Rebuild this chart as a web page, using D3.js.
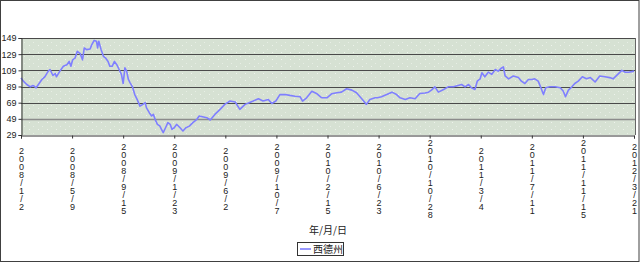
<!DOCTYPE html>
<html>
<head>
<meta charset="utf-8">
<script src="https://cdn.jsdelivr.net/npm/d3@7"></script>
<style>
  body { margin: 0; background: #fff; }
  svg { display: block; }
</style>
</head>
<body>
<svg id="chart" width="640" height="263"></svg>
<script>
// trading-day index of each date label on the category axis
var tickLabels = ["2008/1/2", "2008/5/9", "2008/9/15", "2009/1/23", "2009/6/2", "2009/10/7",
  "2010/2/15", "2010/6/23", "2010/10/28", "2011/3/4", "2011/7/11", "2011/11/15", "2012/3/21"];
var tickStep = 88;
var yTicks = [29, 49, 69, 89, 109, 129, 149];

// readings of the WTI line: trading-day index and price
var days = [0, 4, 10, 16, 21, 26, 30, 36, 41, 47, 50, 55, 59, 61, 67, 73, 79, 83, 86, 89,
  93, 97, 102, 106, 109, 113, 119, 122, 126, 130, 132, 134, 138, 142, 146, 150, 153, 157, 161, 165,
  169, 173, 176, 179, 182, 185, 188, 192, 196, 200, 205, 210, 214, 216, 221, 225, 228, 231, 235, 239,
  242, 245, 249, 253, 257, 260, 264, 268, 274, 279, 284, 290, 296, 303, 307, 320, 326, 334, 343, 351,
  360, 369, 377, 386, 393, 400, 409, 417, 426, 432, 439, 446, 455, 463, 472, 481, 485, 492, 501, 509,
  518, 527, 535, 544, 552, 561, 570, 578, 587, 595, 601, 610, 614, 621, 630, 639, 647, 653, 662, 670,
  679, 687, 696, 702, 707, 713, 719, 728, 736, 745, 753, 759, 765, 771, 776, 782, 786, 791, 794, 799,
  805, 811, 817, 822, 828, 831, 834, 840, 848, 857, 862, 868, 874, 880, 885, 891, 895, 900, 904, 911,
  920, 929, 934, 938, 943, 949, 954, 960, 967, 974, 981, 989, 997, 1006, 1014, 1020, 1028, 1035, 1041, 1047, 1056];
var prices = [99.7, 95.6, 91.5, 88.6, 90.3, 87.4, 91.5, 97.7, 101, 108, 110, 102.6, 105, 101, 108, 114, 116, 120, 114, 122,
  124, 132.6, 129.7, 122, 136.7, 134.6, 135.4, 140.8, 146, 145, 136.7, 145, 134.6, 126.4, 124, 120, 114, 114, 120, 116,
  110, 104, 92.7, 112, 108, 97.7, 93.6, 88.6, 79, 73, 64.8, 66.9, 69, 62.8, 56.6, 52.5, 54.5, 48.4, 42.2, 40.2,
  36, 32, 38, 44.3, 42.2, 36, 38, 42.2, 38, 34, 38, 40, 44.3, 48.4, 52.5, 50.4, 47.6, 54.5, 60.7, 66.9,
  71, 69.8, 60.7, 66.9, 69, 71, 73.8, 71, 73, 68, 71, 79, 79, 78, 77, 76.3, 71, 75, 83, 80.4,
  75, 75, 80, 81.2, 82, 86.2, 84.5, 81.2, 73.8, 66.9, 73, 75, 75, 76.3, 79, 82, 79, 75, 73, 75,
  73.8, 80.4, 81, 82, 84.5, 88.6, 82, 85.3, 88.6, 88.6, 90.3, 91.5, 88.6, 91.5, 87.4, 85.3, 95.6, 98.5, 106, 101,
  106.7, 104, 110, 108, 112, 113.3, 102, 98.5, 102, 100, 95.6, 92.7, 97.7, 97.7, 98.5, 95.6, 88.6, 79, 87.4, 88.6,
  88.6, 87.4, 83.4, 76.3, 84.5, 88.6, 92.7, 95.6, 101, 98.5, 100, 94.6, 102, 101, 100, 98.5, 104, 109, 106.7, 106.7, 108];

var seriesName = "西德州";
var axisTitle = "年/月/日";

var svg = d3.select("#chart");
var plotL = 21, plotR = 635, plotT = 38, plotB = 135;

var x = d3.scaleLinear().domain([0, (tickLabels.length - 1) * tickStep]).range([plotL, plotR - 1]);
var y = d3.scaleLinear().domain([29, 149]).range([plotB, plotT]);

// outer frame
svg.append("rect")
  .attr("x", 0.5).attr("y", 0.5)
  .attr("width", 638.5).attr("height", 261)
  .attr("fill", "#fff")
  .attr("stroke", "#404040");

// plot background with a light speckle
var defs = svg.append("defs");
var pat = defs.append("pattern")
  .attr("id", "speck").attr("width", 9).attr("height", 7)
  .attr("patternUnits", "userSpaceOnUse");
pat.append("rect").attr("width", 9).attr("height", 7).attr("fill", "#d6e1d3");
pat.append("rect").attr("x", 2).attr("y", 3).attr("width", 1).attr("height", 1).attr("fill", "#eef3ec");
pat.append("rect").attr("x", 6).attr("y", 0).attr("width", 1).attr("height", 1).attr("fill", "#e7eee5");

svg.append("rect")
  .attr("x", plotL).attr("y", plotT)
  .attr("width", plotR - plotL).attr("height", plotB - plotT)
  .attr("fill", "url(#speck)");

// horizontal gridlines
svg.append("g")
  .selectAll("line")
  .data(yTicks.filter(function(d) { return d > 29; }))
  .enter().append("line")
  .attr("x1", plotL).attr("x2", plotR)
  .attr("y1", function(d) { return Math.round(y(d)) + 0.5; })
  .attr("y2", function(d) { return Math.round(y(d)) + 0.5; })
  .attr("stroke", function(d) { return d === 49 ? "#8c8c8c" : "#4a4a4a"; })
  .attr("stroke-width", function(d) { return d === 49 ? 1.5 : 1; });

// right border of plot area
svg.append("line")
  .attr("x1", plotR + 0.5).attr("x2", plotR + 0.5)
  .attr("y1", plotT).attr("y2", plotB)
  .attr("stroke", "#666");

// the price line
var line = d3.line()
  .x(function(d) { return x(d[0]); })
  .y(function(d) { return y(d[1]); });

svg.append("path")
  .datum(days.map(function(d, i) { return [d, prices[i]]; }))
  .attr("fill", "none")
  .attr("stroke", "#7f7fff")
  .attr("stroke-width", 1.6)
  .attr("stroke-linejoin", "round")
  .attr("d", line);

// y axis
var yAxis = svg.append("g")
  .attr("transform", "translate(" + (plotL + 0.5) + ",0)")
  .call(d3.axisLeft(y).tickValues(yTicks).tickSize(3).tickPadding(2));
yAxis.select(".domain").attr("stroke", "#333");
yAxis.selectAll(".tick line").attr("stroke", "#333");
yAxis.selectAll("text")
  .attr("font-family", "Liberation Sans, Arial, sans-serif")
  .attr("font-size", 9)
  .attr("fill", "#222");

// x axis, labels drawn one character per line
var xAxis = svg.append("g")
  .attr("transform", "translate(0," + (plotB + 0.5) + ")")
  .call(d3.axisBottom(x)
    .tickValues(tickLabels.map(function(d, i) { return i * tickStep; }))
    .tickSize(3)
    .tickFormat(""));
xAxis.select(".domain").attr("stroke", "#333");
xAxis.selectAll(".tick line").attr("stroke", "#333");

var lab = svg.append("g")
  .selectAll("text")
  .data(tickLabels)
  .enter().append("text")
  .attr("font-family", "Liberation Sans, Arial, sans-serif")
  .attr("font-size", 9)
  .attr("fill", "#222")
  .attr("text-anchor", "middle");

lab.each(function(d, i) {
  var t = d3.select(this);
  var chars = d.split("");
  var y0 = 182 - (chars.length - 1) * 4;
  chars.forEach(function(c, k) {
    t.append("tspan")
      .attr("x", x(i * tickStep) + 0.5)
      .attr("y", y0 + k * 8)
      .text(c);
  });
});

// axis title
svg.append("text")
  .attr("x", (plotL + plotR) / 2)
  .attr("y", 234)
  .attr("text-anchor", "middle")
  .attr("font-family", "Noto Sans CJK TC, sans-serif")
  .attr("font-size", 10)
  .attr("fill", "#222")
  .text(axisTitle);

// legend
var lg = svg.append("g");
lg.append("rect")
  .attr("x", 297.5).attr("y", 242.5)
  .attr("width", 46).attr("height", 13)
  .attr("fill", "#fff")
  .attr("stroke", "#333");
lg.append("line")
  .attr("x1", 300).attr("x2", 311)
  .attr("y1", 249).attr("y2", 249)
  .attr("stroke", "#7f7fff").attr("stroke-width", 1.6);
lg.append("text")
  .attr("x", 313).attr("y", 253)
  .attr("font-family", "Noto Sans CJK TC, sans-serif")
  .attr("font-size", 10)
  .attr("fill", "#222")
  .text(seriesName);
</script>
</body>
</html>
